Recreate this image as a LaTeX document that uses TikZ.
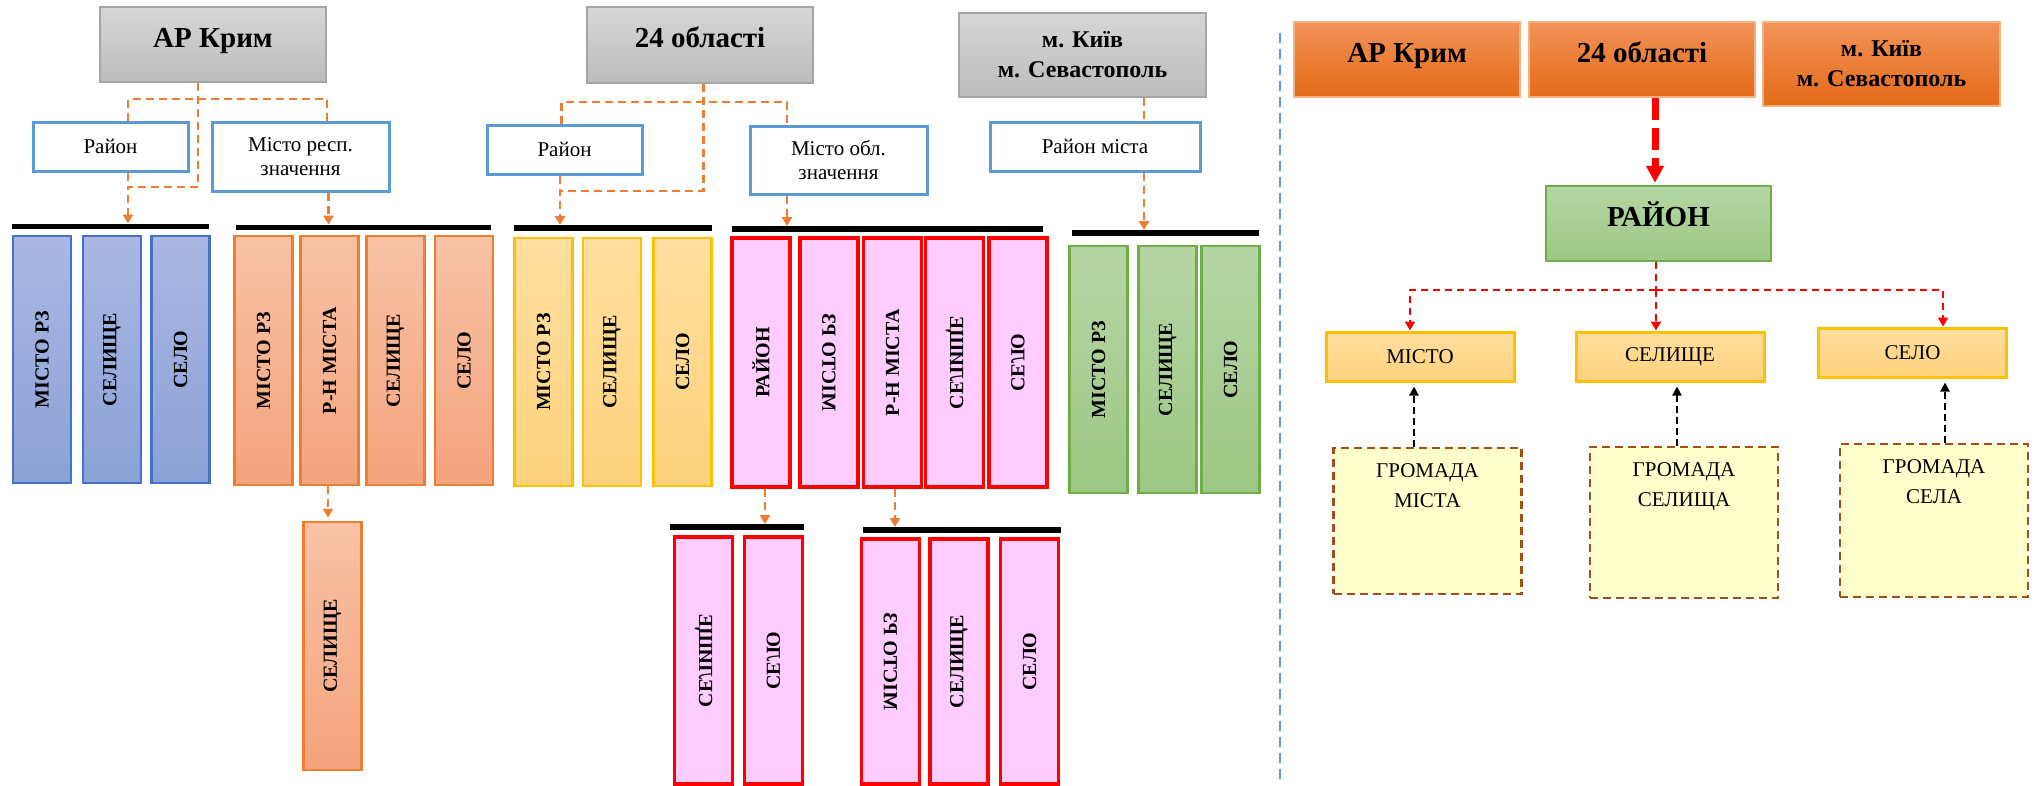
\documentclass[tikz,border=0pt]{standalone}
\usepackage{fontspec}
\setmainfont{Liberation Serif}
\usetikzlibrary{arrows.meta}

\definecolor{govtop}{HTML}{D6D6D6}
\definecolor{govbot}{HTML}{BCBCBC}
\definecolor{govline}{HTML}{A5A5A5}
\definecolor{linkor}{HTML}{ED7D31}
\definecolor{unitblue}{HTML}{5B9BD5}
\definecolor{bluetop}{HTML}{AAB8E2}
\definecolor{bluebot}{HTML}{8BA1D7}
\definecolor{blueline}{HTML}{4472C4}
\definecolor{ortop}{HTML}{F8C2A6}
\definecolor{orbot}{HTML}{F4A47D}
\definecolor{yeltop}{HTML}{FFDE9F}
\definecolor{yelbot}{HTML}{FFD37D}
\definecolor{yelline}{HTML}{FFC000}
\definecolor{pinkfill}{HTML}{FFCCFF}
\definecolor{grtop}{HTML}{B5D6A5}
\definecolor{grbot}{HTML}{9DC785}
\definecolor{grline}{HTML}{70AD47}
\definecolor{hdtop}{HTML}{F29358}
\definecolor{hdbot}{HTML}{E46A18}
\definecolor{hdline}{HTML}{F4B183}
\definecolor{gromfill}{HTML}{FFFFCC}
\definecolor{gromline}{HTML}{A0501A}

\newcommand{\headfont}{\fontsize{29pt}{34pt}\selectfont\bfseries}
\newcommand{\kyivfont}{\fontsize{24pt}{30pt}\selectfont\bfseries}
\newcommand{\unitfont}{\fontsize{21pt}{24pt}\selectfont}
\newcommand{\colfont}{\fontsize{20pt}{24pt}\selectfont\bfseries}
\newcommand{\settfont}{\fontsize{21pt}{25pt}\selectfont}
\newcommand{\hrfont}{\fontsize{21pt}{30pt}\selectfont}
\newcommand{\clab}[2][1]{\rotatebox{90}{\scalebox{1}[#1]{\ignorespaces#2\unskip}}}
\newcommand{\hrtext}[2]{\parbox[c][#1][t]{180pt}{\centering\vspace*{16pt}#2}}

\tikzstyle{gov}=[rectangle, draw=govline, line width=2.5pt, top color=govtop, bottom color=govbot, inner sep=0pt, font=\headfont]
\tikzstyle{hdr}=[text height=20pt, text depth=15pt]
\tikzstyle{unit}=[rectangle, draw=unitblue, line width=3pt, fill=white, inner sep=0pt, align=center, font=\unitfont]
\tikzstyle{col}=[rectangle, line width=2.5pt, inner sep=0pt, minimum width=58pt, minimum height=247pt, font=\colfont]
\tikzstyle{bluecol}=[col, draw=blueline, top color=bluetop, bottom color=bluebot]
\tikzstyle{orcol}=[col, draw=linkor, top color=ortop, bottom color=orbot]
\tikzstyle{yelcol}=[col, draw=yelline, top color=yeltop, bottom color=yelbot]
\tikzstyle{pinkcol}=[col, draw=red, line width=3.5pt, fill=pinkfill]
\tikzstyle{grcol}=[col, draw=grline, top color=grtop, bottom color=grbot]
\tikzstyle{bar}=[rectangle, fill=black, inner sep=0pt, minimum height=5.5pt]
\tikzstyle{link}=[draw=linkor, line width=2.5pt, dash pattern=on 8pt off 5pt]
\tikzstyle{linkarr}=[link, -{Triangle[width=10pt,length=9pt]}]
\tikzstyle{hd}=[gov, draw=hdline, line width=2pt, top color=hdtop, bottom color=hdbot]
\tikzstyle{grbox}=[gov, draw=grline, top color=grtop, bottom color=grbot]
\tikzstyle{sett}=[rectangle, draw=yelline, line width=3pt, top color=yeltop, bottom color=yelbot, inner sep=0pt, minimum width=188pt, minimum height=49pt, font=\settfont]
\tikzstyle{hromada}=[rectangle, draw=gromline, line width=2.5pt, dash pattern=on 8pt off 5pt, fill=gromfill, inner sep=0pt, minimum width=188pt, font=\hrfont]
\tikzstyle{redlink}=[draw=red, line width=2.5pt, dash pattern=on 7pt off 5pt]
\tikzstyle{redarr}=[redlink, -{Triangle[width=10pt,length=9pt]}]
\tikzstyle{bigarr}=[draw=red, line width=7pt, dash pattern=on 22pt off 8pt, -{Triangle[width=17pt,length=17pt]}, shorten >=2pt]
\tikzstyle{uparr}=[draw=black, line width=2.5pt, dash pattern=on 7pt off 4pt, -{Triangle[width=9pt,length=9pt]}, shorten >=4pt]
\tikzstyle{sep}=[draw=unitblue, line width=2.5pt, dash pattern=on 10pt off 6pt]

\begin{document}
\begin{tikzpicture}[x=1pt, y=-1pt]
  \useasboundingbox (0,0) rectangle (2040,785);

  \node[gov,hdr,minimum width=226pt,minimum height=75pt] (arkrym) at (213,44.5) {АР Крим};
  \node[gov,hdr,minimum width=226pt,minimum height=76pt] (oblasti) at (700,45) {24 області};
  \node[gov,align=center,font=\kyivfont,minimum width=247pt,minimum height=84pt] (kyiv) at (1082.5,55) {м. Київ\\м. Севастополь};

  \node[unit,minimum width=155pt,minimum height=49pt] (rayon1) at (110.5,146.5) {Район};
  \node[unit,minimum width=177pt,minimum height=69pt] (mistoresp) at (300.5,156.5) {Місто респ.\\значення};
  \node[unit,minimum width=155pt,minimum height=49pt] (rayon2) at (564.5,149.5) {Район};
  \node[unit,minimum width=177pt,minimum height=68pt] (mistoobl) at (838.5,160) {Місто обл.\\значення};
  \node[unit,minimum width=210pt,minimum height=49pt] (rayonmista) at (1095,146.5) {Район міста};

  \node[bar,minimum width=197pt] (bar1) at (110.5,226.5) {};
  \node[bar,minimum width=255pt] (bar2) at (363.5,227.5) {};
  \node[bar,minimum width=198pt] (bar3) at (613,228) {};
  \node[bar,minimum width=311pt] (bar4) at (887.5,229) {};
  \node[bar,minimum width=187pt] (bar5) at (1165.5,233) {};
  \node[bar,minimum width=134pt] (bar6) at (737,527) {};
  \node[bar,minimum width=198pt] (bar7) at (962,530) {};

  \foreach \x/\t [count=\i] in {42/МІСТО РЗ,112/СЕЛИЩЕ,180.5/СЕЛО}
    \node[bluecol] (blue\i) at (\x,359.5) {\clab{\t}};
  \foreach \x/\t [count=\i] in {263.5/МІСТО РЗ,329.5/Р-Н МІСТА,395.5/СЕЛИЩЕ,464/СЕЛО}
    \node[orcol,minimum height=249pt] (or\i) at (\x,360.5) {\clab{\t}};
  \node[orcol,minimum height=248pt] (or5) at (332.5,646) {\clab{СЕЛИЩЕ}};
  \foreach \x/\t [count=\i] in {543.5/МІСТО РЗ,612/СЕЛИЩЕ,682.5/СЕЛО}
    \node[yelcol,minimum height=248pt] (yel\i) at (\x,362) {\clab{\t}};
  \foreach \x/\f/\t [count=\i] in {761/1/РАЙОН,829/-1/МІСТО РЗ,892.5/1/Р-Н МІСТА,954.5/-1/СЕЛИЩЕ,1018/-1/СЕЛО}
    \node[pinkcol,minimum height=249pt] (pink\i) at (\x,362.5) {\clab[\f]{\t}};
  \foreach \x/\f/\t [count=\i from 6] in {703.5/-1/СЕЛИЩЕ,773.5/-1/СЕЛО}
    \node[pinkcol] (pink\i) at (\x,660.5) {\clab[\f]{\t}};
  \foreach \x/\f/\t [count=\i from 8] in {890.5/-1/МІСТО РЗ,959/1/СЕЛИЩЕ,1029.5/1/СЕЛО}
    \node[pinkcol,minimum height=245pt] (pink\i) at (\x,661.5) {\clab[\f]{\t}};
  \foreach \x/\t [count=\i] in {1098.5/МІСТО РЗ,1167.5/СЕЛИЩЕ,1230.5/СЕЛО}
    \node[grcol] (gr\i) at (\x,369.5) {\clab{\t}};

  \coordinate (k1) at (198,99);
  \coordinate (j1) at (198,187);
  \coordinate (k2) at (703.5,102);
  \coordinate (j2) at (703.5,191);

  \draw[linkarr] ([xshift=-15pt]arkrym.south) -- (j1) -| ([xshift=17.5pt]bar1.north);
  \draw[link] ([xshift=17.5pt]rayon1.north) |- (k1) -| ([xshift=26.5pt]mistoresp.north);
  \draw[link] ([xshift=17.5pt]rayon1.south) -- ([xshift=17.5pt]rayon1.south |- j1);
  \draw[linkarr] ([xshift=28pt]mistoresp.south) -- ([xshift=28pt]mistoresp.south |- bar2.north);

  \draw[linkarr] ([xshift=3.5pt]oblasti.south) -- (j2) -| ([xshift=-53pt]bar3.north);
  \draw[link] ([xshift=-3pt]rayon2.north) |- (k2) -| ([xshift=-51.5pt]mistoobl.north);
  \draw[link] ([xshift=-4.5pt]rayon2.south) -- ([xshift=-4.5pt]rayon2.south |- j2);
  \draw[linkarr] ([xshift=-51.5pt]mistoobl.south) -- ([xshift=-51.5pt]mistoobl.south |- bar4.north);

  \draw[link] ([xshift=61.5pt]kyiv.south) -- ([xshift=61.5pt]kyiv.south |- rayonmista.north);
  \draw[linkarr] ([xshift=49pt]rayonmista.south) -- ([xshift=49pt]rayonmista.south |- bar5.north);

  \draw[linkarr] ([xshift=4pt]pink1.south) -- ([xshift=4pt]pink1.south |- bar6.north);
  \draw[linkarr] ([xshift=2.5pt]pink3.south) -- ([xshift=2.5pt]pink3.south |- bar7.north);
  \draw[linkarr,shorten >=3pt] ([xshift=-1.5pt]or2.south) -- ([xshift=-1.5pt]or2.south |- or5.north);

  \draw[sep] (1280,33) -- (1280,785);

  \node[hd,hdr,minimum width=226pt,minimum height=75pt] (hkrym) at (1407,59.5) {АР Крим};
  \node[hd,hdr,minimum width=226pt,minimum height=75pt] (hoblasti) at (1642,59.5) {24 області};
  \node[hd,align=center,font=\kyivfont,minimum width=237pt,minimum height=84pt] (hkyiv) at (1881.5,64) {м. Київ\\м. Севастополь};
  \node[grbox,hdr,minimum width=225pt,minimum height=75pt] (rayon) at (1658.5,223.5) {РАЙОН};

  \node[sett] (misto) at (1420,356.5) {МІСТО};
  \node[sett] (selyshche) at (1670,356.5) {СЕЛИЩЕ};
  \node[sett] (selo) at (1912.5,352.5) {СЕЛО};

  \node[hromada] (hmisto) at (1427.5,521) {\hrtext{146pt}{ГРОМАДА\\МІСТА}};
  \node[hromada] (hselyshche) at (1684,522.5) {\hrtext{151pt}{ГРОМАДА\\СЕЛИЩА}};
  \node[hromada] (hselo) at (1934,520.5) {\hrtext{153pt}{ГРОМАДА\\СЕЛА}};

  \coordinate (hub) at (1656,290);
  \draw[bigarr] ([xshift=13pt]hoblasti.south) -- ([xshift=13pt]hoblasti.south |- rayon.north);
  \draw[redlink] ([xshift=-2.5pt]rayon.south) -- (hub);
  \draw[redarr] (hub) -- (hub |- selyshche.north);
  \draw[redarr] (hub) -| ([xshift=-10pt]misto.north);
  \draw[redarr] (hub) -| ([xshift=30.5pt]selo.north);

  \draw[uparr] ([xshift=-13.5pt]hmisto.north) -- ([xshift=-13.5pt]hmisto.north |- misto.south);
  \draw[uparr] ([xshift=-7pt]hselyshche.north) -- ([xshift=-7pt]hselyshche.north |- selyshche.south);
  \draw[uparr] ([xshift=11pt]hselo.north) -- ([xshift=11pt]hselo.north |- selo.south);
\end{tikzpicture}
\end{document}
